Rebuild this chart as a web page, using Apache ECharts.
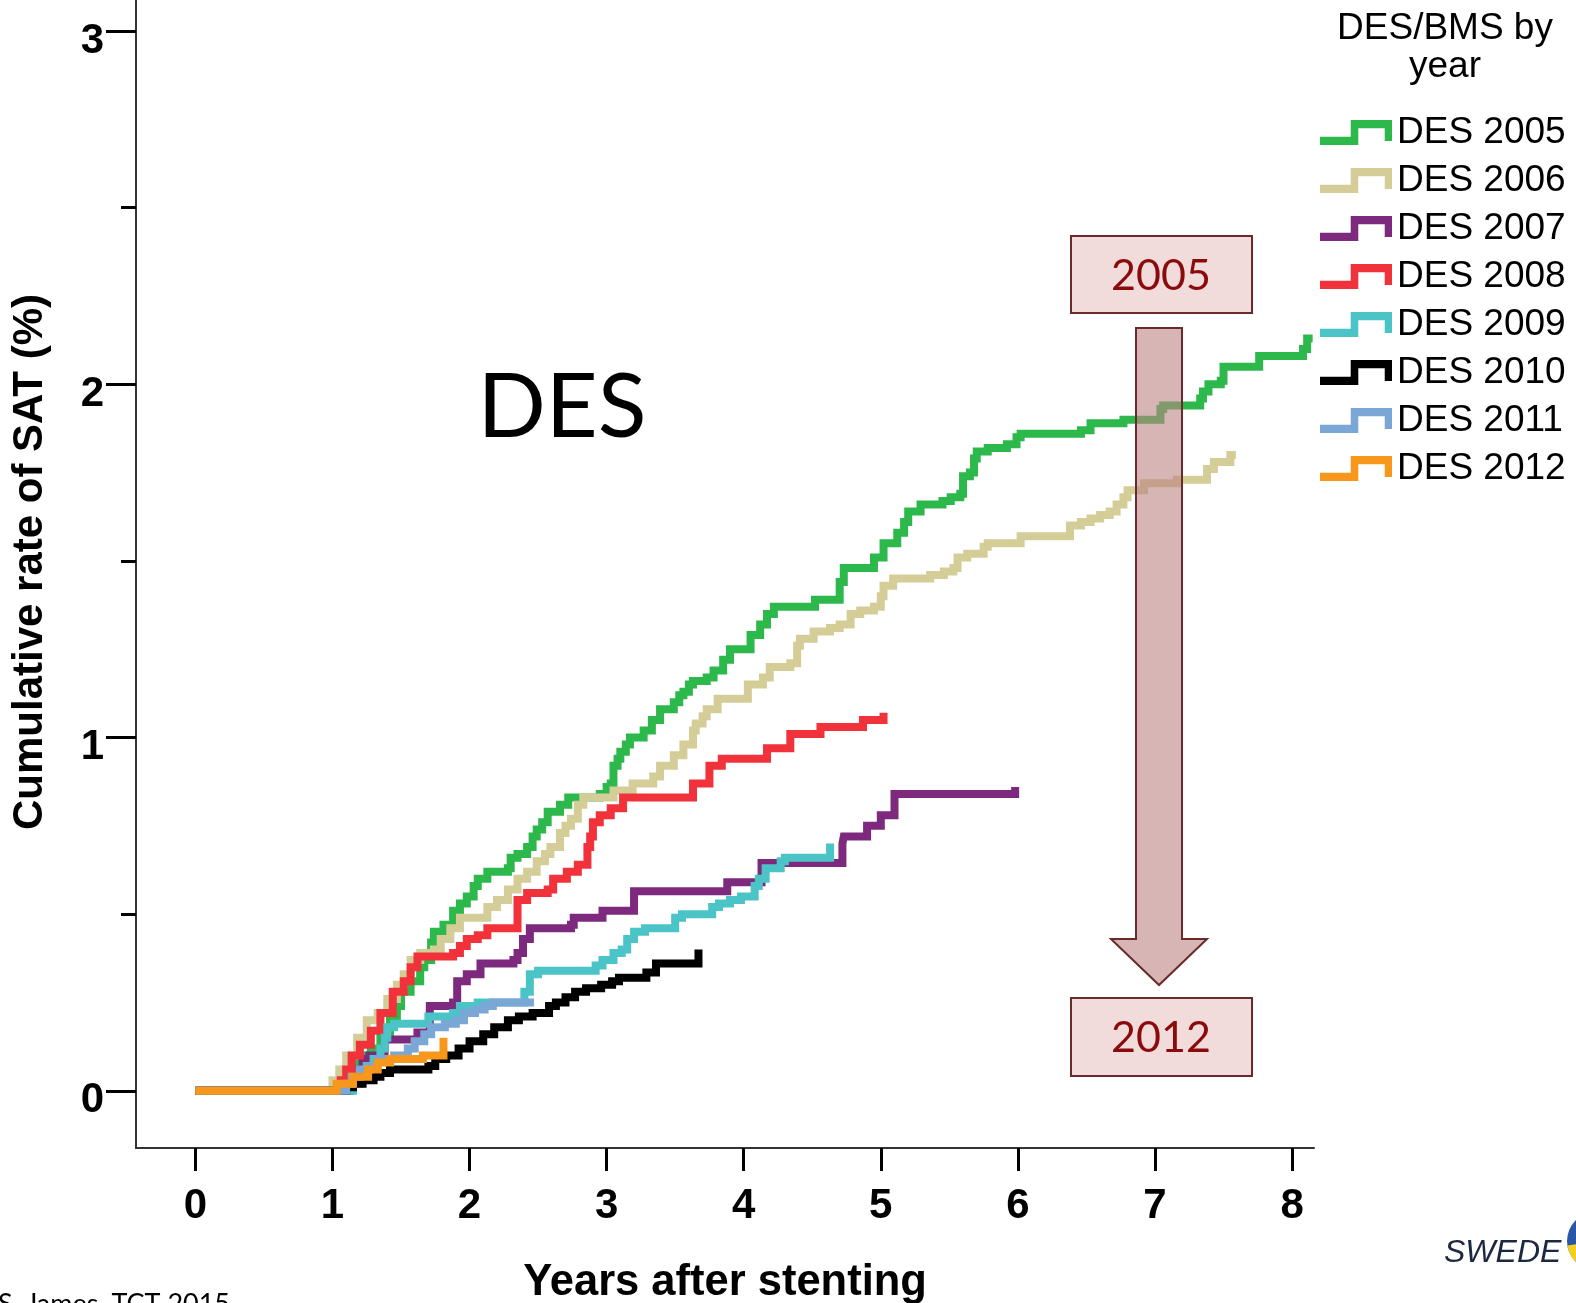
<!DOCTYPE html>
<html>
<head>
<meta charset="utf-8">
<title>Cumulative rate of SAT – DES by year</title>
<script src="https://cdn.jsdelivr.net/npm/echarts@6/dist/echarts.min.js"></script>
<style>
  html, body { margin: 0; padding: 0; background: #ffffff; }
  #chart { width: 1576px; height: 1303px; }
</style>
</head>
<body>
<div id="chart"></div>
<script>
// Kaplan–Meier style cumulative SAT rate (%) by implantation year; [years, rate]
const seriesNames = ['DES 2005', 'DES 2006', 'DES 2007', 'DES 2008', 'DES 2009', 'DES 2010', 'DES 2011', 'DES 2012'];
const seriesColors = ['#2db84b', '#d5cd98', '#7d2a7e', '#f1323a', '#4bc4c8', '#000000', '#7aa7d5', '#f7981d'];

const des2005 = [[0,0],[1.05,0.02],[1.09,0.05],[1.12,0.08],[1.20,0.10],[1.28,0.12],[1.35,0.15],[1.42,0.20],[1.47,0.24],[1.50,0.28],
  [1.57,0.31],[1.64,0.35],[1.67,0.37],[1.72,0.42],[1.74,0.45],[1.81,0.47],[1.88,0.51],[1.93,0.53],[1.98,0.55],[2.03,0.58],
  [2.06,0.60],[2.13,0.62],[2.28,0.63],[2.30,0.66],[2.35,0.67],[2.42,0.69],[2.46,0.72],[2.49,0.74],[2.53,0.76],[2.57,0.79],
  [2.66,0.81],[2.72,0.83],[2.95,0.84],[3.00,0.86],[3.03,0.87],[3.05,0.92],[3.08,0.94],[3.10,0.96],[3.14,0.98],[3.17,1.00],
  [3.27,1.02],[3.33,1.05],[3.39,1.08],[3.49,1.10],[3.53,1.12],[3.56,1.13],[3.60,1.15],[3.63,1.16],[3.73,1.17],[3.78,1.19],
  [3.85,1.22],[3.90,1.25],[4.05,1.29],[4.12,1.32],[4.17,1.35],[4.22,1.37],[4.52,1.39],[4.70,1.44],[4.73,1.48],[4.95,1.51],
  [5.02,1.55],[5.12,1.58],[5.17,1.61],[5.20,1.64],[5.29,1.66],[5.45,1.67],[5.51,1.68],[5.58,1.69],[5.60,1.74],[5.65,1.75],
  [5.68,1.79],[5.70,1.81],[5.78,1.82],[5.92,1.83],[5.99,1.85],[6.02,1.86],[6.46,1.87],[6.53,1.89],[6.77,1.90],[7.04,1.93],
  [7.06,1.94],[7.33,1.96],[7.35,1.98],[7.39,2.00],[7.48,2.01],[7.50,2.05],[7.76,2.08],[8.08,2.10],[8.11,2.13],[8.15,2.13]];

const des2006 = [[0,0],[1.00,0.03],[1.05,0.06],[1.10,0.10],[1.18,0.15],[1.25,0.20],[1.33,0.22],[1.40,0.26],[1.47,0.30],[1.52,0.33],
  [1.57,0.37],[1.64,0.39],[1.74,0.40],[1.79,0.43],[1.86,0.46],[1.93,0.49],[2.13,0.52],[2.20,0.54],[2.28,0.57],[2.35,0.60],
  [2.42,0.62],[2.49,0.65],[2.55,0.67],[2.59,0.69],[2.66,0.73],[2.70,0.75],[2.74,0.77],[2.79,0.81],[2.83,0.83],[3.05,0.85],
  [3.19,0.87],[3.34,0.89],[3.39,0.92],[3.49,0.95],[3.56,0.98],[3.63,1.02],[3.65,1.04],[3.70,1.06],[3.73,1.08],[3.81,1.11],
  [4.03,1.15],[4.14,1.17],[4.19,1.20],[4.34,1.21],[4.39,1.26],[4.41,1.28],[4.51,1.30],[4.63,1.31],[4.70,1.32],[4.78,1.35],
  [4.85,1.36],[4.95,1.37],[5.00,1.40],[5.02,1.43],[5.09,1.45],[5.36,1.46],[5.46,1.47],[5.53,1.48],[5.56,1.51],[5.63,1.52],
  [5.75,1.54],[5.78,1.55],[6.02,1.57],[6.38,1.60],[6.46,1.61],[6.53,1.62],[6.60,1.63],[6.67,1.64],[6.72,1.66],[6.77,1.68],
  [6.80,1.70],[6.92,1.72],[7.16,1.73],[7.38,1.76],[7.43,1.78],[7.55,1.80],[7.59,1.80]];

const des2007 = [[0,0],[1.13,0.03],[1.17,0.06],[1.22,0.09],[1.27,0.10],[1.38,0.145],[1.62,0.165],[1.71,0.24],[1.88,0.25],[1.91,0.31],
  [1.98,0.33],[2.08,0.36],[2.32,0.37],[2.35,0.39],[2.39,0.43],[2.44,0.46],[2.74,0.47],[2.76,0.49],[2.97,0.51],[3.20,0.565],
  [3.88,0.59],[4.13,0.645],[4.72,0.70],[4.73,0.72],[4.90,0.75],[5.00,0.78],[5.10,0.84],[5.98,0.86]];

const des2008 = [[0,0],[1.06,0.03],[1.10,0.06],[1.14,0.10],[1.20,0.13],[1.28,0.17],[1.35,0.22],[1.44,0.28],[1.52,0.31],[1.57,0.35],
  [1.62,0.38],[1.88,0.39],[1.93,0.41],[1.98,0.43],[2.06,0.44],[2.13,0.46],[2.35,0.54],[2.42,0.56],[2.57,0.57],[2.61,0.60],
  [2.71,0.62],[2.79,0.64],[2.86,0.69],[2.88,0.72],[2.90,0.76],[2.95,0.78],[3.03,0.80],[3.12,0.83],[3.63,0.87],[3.75,0.92],
  [3.84,0.94],[4.17,0.97],[4.34,1.01],[4.56,1.03],[4.87,1.05],[5.02,1.07]];

const des2009 = [[0,0],[1.15,0.02],[1.20,0.05],[1.25,0.07],[1.30,0.09],[1.35,0.12],[1.38,0.15],[1.40,0.18],[1.45,0.19],[1.70,0.21],
  [1.88,0.22],[1.93,0.24],[2.06,0.25],[2.40,0.28],[2.44,0.33],[2.50,0.34],[2.92,0.355],[2.97,0.37],[3.05,0.39],[3.11,0.40],
  [3.15,0.43],[3.20,0.45],[3.28,0.46],[3.50,0.49],[3.55,0.50],[3.77,0.52],[3.82,0.53],[3.90,0.54],[3.98,0.55],[4.08,0.58],
  [4.11,0.60],[4.16,0.63],[4.27,0.65],[4.30,0.66],[4.63,0.70]];

const des2010 = [[0,0],[1.10,0.01],[1.15,0.02],[1.22,0.03],[1.30,0.04],[1.35,0.05],[1.42,0.06],[1.70,0.07],[1.75,0.09],[1.83,0.10],
  [1.92,0.12],[2.00,0.14],[2.10,0.16],[2.18,0.18],[2.28,0.20],[2.36,0.21],[2.46,0.22],[2.58,0.24],[2.63,0.25],[2.70,0.265],
  [2.77,0.28],[2.85,0.29],[2.96,0.30],[3.04,0.31],[3.09,0.32],[3.29,0.335],[3.36,0.36],[3.67,0.40]];

const des2011 = [[0,0],[1.10,0.02],[1.14,0.04],[1.20,0.06],[1.27,0.07],[1.33,0.09],[1.45,0.10],[1.55,0.12],[1.60,0.14],[1.67,0.16],
  [1.72,0.18],[1.82,0.19],[1.90,0.20],[1.96,0.22],[2.04,0.23],[2.11,0.24],[2.17,0.25],[2.47,0.25]];

const des2012 = [[0,0],[1.03,0.02],[1.15,0.04],[1.26,0.06],[1.33,0.08],[1.42,0.09],[1.66,0.10],[1.81,0.15]];

const seriesData = [des2005, des2006, des2007, des2008, des2009, des2010, des2011, des2012];

// Axis ticks
const xTicks = [0, 1, 2, 3, 4, 5, 6, 7, 8];
const yMajorTicks = [0, 1, 2, 3];
const yMinorTicks = [0.5, 1.5, 2.5];

const SANS = '"Liberation Sans", Arial, Helvetica, sans-serif';
const HUMANIST = 'Lato, "Open Sans", "Noto Sans", sans-serif';

// Step-shaped legend glyph
const stepIcon = 'path://M0,50 L93,50 L93,0 L218,0 L218,63 L196,63 L196,25 L116,25 L116,75 L0,75 Z';

const chart = echarts.init(document.getElementById('chart'), null, { renderer: 'canvas' });

const option = {
  animation: false,
  backgroundColor: '#ffffff',
  grid: { left: 136, top: 0, width: 1178, height: 1148, containLabel: false, outerBoundsMode: 'none' },
  legend: {
    orient: 'vertical',
    left: 1315,
    top: 109,
    itemWidth: 72,
    itemHeight: 25,
    itemGap: 11,
    icon: stepIcon,
    itemStyle: { borderWidth: 0 },
    textStyle: { fontSize: 37, fontFamily: SANS, color: '#000000', lineHeight: 37 },
    data: seriesNames
  },
  xAxis: {
    type: 'value',
    min: -0.433,
    max: 8.16,
    name: 'Years after stenting',
    nameLocation: 'middle',
    nameGap: 113,
    nameTextStyle: { fontSize: 43.5, fontWeight: 'bold', fontFamily: SANS, color: '#000000' },
    axisLine: { show: true, onZero: false, lineStyle: { color: '#333333', width: 2 } },
    axisTick: { show: true, customValues: xTicks, length: 23, lineStyle: { color: '#000000', width: 3 } },
    axisLabel: { show: true, customValues: xTicks, margin: 37, fontSize: 42, fontWeight: 'bold', fontFamily: SANS, color: '#000000' },
    splitLine: { show: false }
  },
  yAxis: [
    {
      type: 'value',
      min: -0.162,
      max: 3.088,
      axisLine: { show: true, onZero: false, lineStyle: { color: '#333333', width: 2 } },
      axisTick: { show: true, customValues: yMajorTicks, length: 30, lineStyle: { color: '#000000', width: 3 } },
      axisLabel: {
        show: true, customValues: yMajorTicks, margin: 32,
        formatter: '{v|{value}}',
        rich: { v: { fontSize: 42, fontWeight: 'bold', fontFamily: SANS, color: '#000000', padding: [20, 0, 0, 0] } }
      },
      splitLine: { show: false }
    },
    {
      type: 'value',
      min: -0.162,
      max: 3.088,
      position: 'left',
      axisLine: { show: false, onZero: false },
      axisTick: { show: true, customValues: yMinorTicks, length: 15, lineStyle: { color: '#000000', width: 3 } },
      axisLabel: { show: false },
      splitLine: { show: false }
    }
  ],
  series: seriesNames.map((name, i) => ({
    name: name,
    type: 'line',
    step: 'end',
    data: seriesData[i],
    showSymbol: false,
    symbol: 'none',
    color: seriesColors[i],
    itemStyle: { color: seriesColors[i] },
    lineStyle: { color: seriesColors[i], width: 8, cap: 'butt', join: 'miter' },
    emphasis: { disabled: true },
    z: 2 + i
  })),
  graphic: [
    {
      type: 'text', x: 30, y: 562, rotation: Math.PI / 2, z: 100,
      style: { text: 'Cumulative rate of SAT (%)', font: 'bold 42px ' + SANS, fill: '#000000',
               textAlign: 'center', align: 'center', textVerticalAlign: 'middle', verticalAlign: 'middle' }
    },
    {
      type: 'text', x: 562, y: 408, z: 100,
      style: { text: 'DES', font: '90px ' + HUMANIST, fill: '#000000',
               textAlign: 'center', align: 'center', textVerticalAlign: 'middle', verticalAlign: 'middle' }
    },
    {
      type: 'text', x: 1445, y: 10, z: 100,
      style: { text: 'DES/BMS by\nyear', font: '37px ' + SANS, lineHeight: 38, fill: '#000000',
               textAlign: 'center', align: 'center', textVerticalAlign: 'top', verticalAlign: 'top' }
    },
    // "2005 → 2012" trend arrow with labelled boxes
    {
      type: 'polygon', z: 110,
      shape: { points: [[1136, 328], [1182, 328], [1182, 939], [1207, 939], [1159, 985], [1111, 939], [1136, 939]] },
      style: { fill: 'rgba(187,132,130,0.6)', stroke: '#6b2a2a', lineWidth: 2 }
    },
    {
      type: 'rect', z: 110,
      shape: { x: 1071, y: 236, width: 181, height: 77 },
      style: { fill: '#f2dcdb', stroke: '#6b2a2a', lineWidth: 2 }
    },
    {
      type: 'text', x: 1161, y: 276, z: 111,
      style: { text: '2005', font: '43px ' + HUMANIST, fill: '#8a0b0b',
               textAlign: 'center', align: 'center', textVerticalAlign: 'middle', verticalAlign: 'middle' }
    },
    {
      type: 'rect', z: 110,
      shape: { x: 1071, y: 998, width: 181, height: 78 },
      style: { fill: '#f2dcdb', stroke: '#6b2a2a', lineWidth: 2 }
    },
    {
      type: 'text', x: 1161, y: 1038, z: 111,
      style: { text: '2012', font: '43px ' + HUMANIST, fill: '#8a0b0b',
               textAlign: 'center', align: 'center', textVerticalAlign: 'middle', verticalAlign: 'middle' }
    },
    // registry mark, bottom right
    {
      type: 'text', x: 1444, y: 1253, z: 100,
      style: { text: 'SWEDE', font: 'italic 32px ' + SANS, fill: '#1c2741',
               textAlign: 'left', align: 'left', textVerticalAlign: 'middle', verticalAlign: 'middle' }
    },
    {
      type: 'circle', z: 100,
      shape: { cx: 1596, cy: 1241, r: 29 },
      style: { fill: '#2a56a6' }
    },
    {
      type: 'sector', z: 101,
      shape: { cx: 1596, cy: 1241, r: 29, r0: 0, startAngle: Math.PI * 0.45, endAngle: Math.PI * 0.95 },
      style: { fill: '#f3d01e' }
    },
    // source note, bottom left
    {
      type: 'text', x: -2, y: 1291, z: 100,
      style: { text: 'S. James, TCT 2015', font: '27px ' + HUMANIST, fill: '#000000',
               textAlign: 'left', align: 'left', textVerticalAlign: 'top', verticalAlign: 'top' }
    }
  ]
};

chart.setOption(option);
</script>
</body>
</html>
